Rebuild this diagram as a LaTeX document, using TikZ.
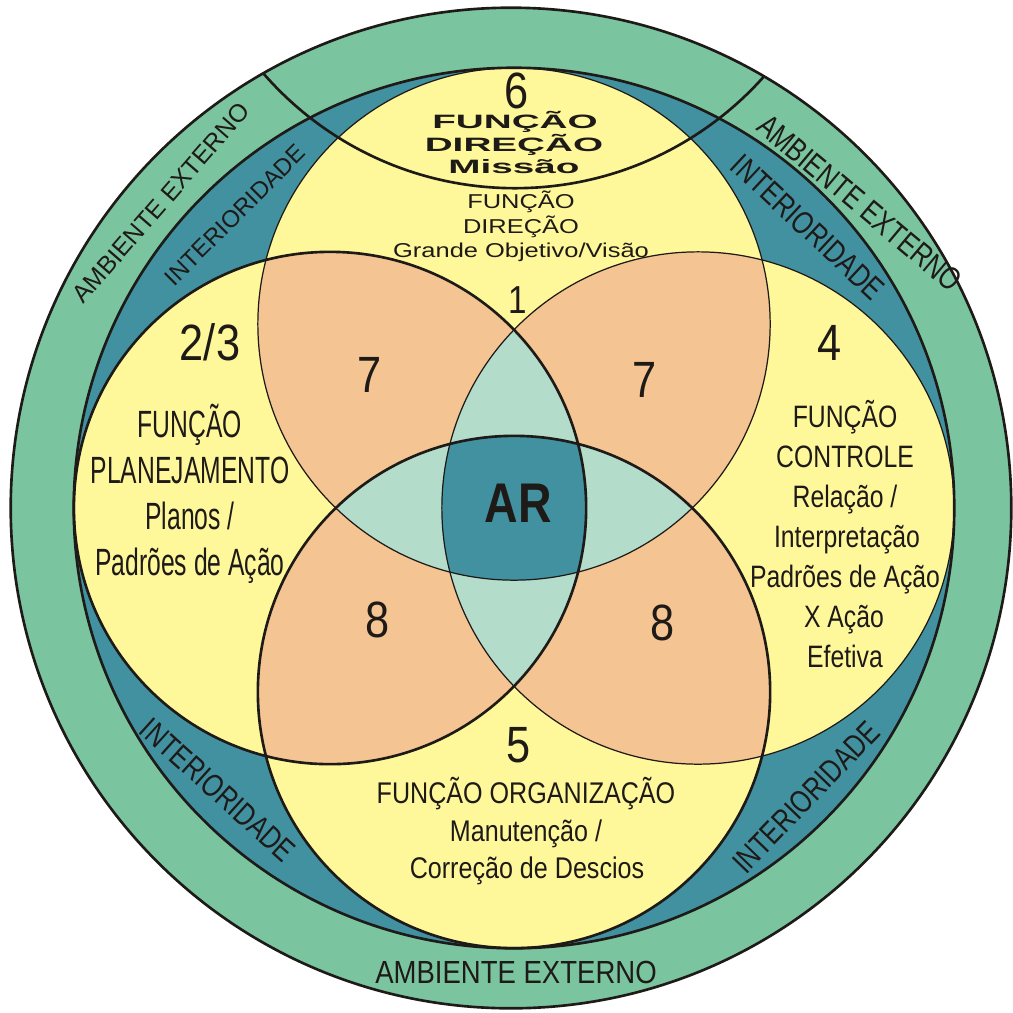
\documentclass[tikz,border=0pt]{standalone}
\usepackage{fontspec}
\setmainfont{Liberation Sans}
\definecolor{ringgreen}{HTML}{7BC4A0}
\definecolor{ringteal}{HTML}{4291A0}
\definecolor{zoneyellow}{HTML}{FFF89B}
\definecolor{zonepeach}{HTML}{F4C492}
\definecolor{zonelight}{HTML}{B4DCCB}
\definecolor{inkcol}{HTML}{1E1A18}
\newcommand\fsz[1]{\fontsize{#1}{#1}\selectfont}
\begin{document}
\begin{tikzpicture}[x=0.01cm,y=-0.01cm,
  txt/.style={inner sep=0pt, outer sep=0pt, text=inkcol, anchor=base},
  ringtxt/.style={inner sep=0pt, outer sep=0pt, text=inkcol, anchor=center},
  digit/.style={txt, font=\fsz{14.5}, xscale=0.85},
  leftblk/.style={txt, font=\fsz{10.8}, xscale=0.65},
  rightblk/.style={txt, font=\fsz{8.8}, xscale=0.8},
  botblk/.style={txt, font=\fsz{8.5}, xscale=0.84},
  topbold/.style={txt, font=\bfseries\fsz{5.5}, xscale=2.0},
  topreg/.style={txt, font=\fsz{5.7}, xscale=1.27},
  thickline/.style={line width=0.75pt, draw=inkcol},
  thinline/.style={line width=0.35pt, draw=inkcol},
]
\useasboundingbox (0,0) rectangle (1013,1012);
\def\cOuter{(511,508) circle (5cm)}
\def\cTeal{(514,508) circle (4.4cm)}
\def\cTop{(514,324) circle (2.56cm)}
\def\cBot{(514,692) circle (2.56cm)}
\def\cLeft{(330,508) circle (2.56cm)}
\def\cRight{(698,508) circle (2.56cm)}
% fills
\fill[ringgreen] \cOuter;
\fill[ringteal] \cTeal;
\fill[zoneyellow] \cTop \cBot \cLeft \cRight;
\begin{scope}\clip \cTop; \fill[zonepeach] \cLeft \cRight; \end{scope}
\begin{scope}\clip \cBot; \fill[zonepeach] \cLeft \cRight; \end{scope}
\begin{scope}\clip \cLeft; \fill[zonelight] \cRight; \end{scope}
\begin{scope}\clip \cTop; \fill[zonelight] \cBot; \end{scope}
\begin{scope}\clip \cLeft; \clip \cRight; \clip \cTop; \fill[ringteal] \cBot; \end{scope}
% outlines
\draw[thinline] \cTop;
\draw[thinline] \cRight;
\draw[thickline] \cLeft;
\draw[thickline] \cBot;
\draw[thickline] \cTeal;
\draw[thickline] \cOuter;
\begin{scope}\clip \cOuter; \draw[thickline] (515,-145) circle (3.33cm); \end{scope}
% region 6
\node[digit] (n6) at (517,108) {6};
\node[topbold] (d6a) at (515,128) {FUNÇÃO};
\node[topbold] (d6b) at (514,151) {DIREÇÃO};
\node[topbold] (d6c) at (514,173) {Missão};
% region 1
\node[topreg] (d1a) at (521,208) {FUNÇÃO};
\node[topreg] (d1b) at (521,233) {DIREÇÃO};
\node[topreg] (d1c) at (521,257) {Grande Objetivo/Visão};
\node[txt, font=\fsz{11.1}, xscale=0.85] (n1) at (518,313) {1};
% overlaps
\node[digit] (n7l) at (370,392) {7};
\node[digit] (n7r) at (645,397) {7};
\node[digit] (n8l) at (378,637) {8};
\node[digit] (n8r) at (663,640) {8};
\node[txt, font=\bfseries\fsz{15.9}, xscale=0.83] (ar) at (518,522) {AR};
% left block
\node[digit] (n23) at (210,360) {2/3};
\node[leftblk] (pl1) at (190,437) {FUNÇÃO};
\node[leftblk] (pl2) at (190,483) {PLANEJAMENTO};
\node[leftblk] (pl3) at (190,529) {Planos /};
\node[leftblk] (pl4) at (190,575) {Padrões de Ação};
% right block
\node[digit] (n4) at (830,360) {4};
\node[rightblk] (co1) at (845,427) {FUNÇÃO};
\node[rightblk] (co2) at (845,467) {CONTROLE};
\node[rightblk] (co3) at (845,507) {Relação /};
\node[rightblk] (co4) at (847,547) {Interpretação};
\node[rightblk] (co5) at (845,587) {Padrões de Ação};
\node[rightblk] (co6) at (844,627) {X Ação};
\node[rightblk] (co7) at (845,667) {Efetiva};
% bottom block
\node[digit] (n5) at (519,762) {5};
\node[botblk] (or1) at (526,803) {FUNÇÃO ORGANIZAÇÃO};
\node[botblk] (or2) at (526,841) {Manutenção /};
\node[botblk] (or3) at (527,878) {Correção de Descios};
% ring labels
\node[ringtxt, font=\fsz{7.1}, rotate=49] (amb1) at (161,203) {AMBIENTE EXTERNO};
\node[ringtxt, font=\fsz{6.8}, rotate=45] (int1) at (235,215) {INTERIORIDADE};
\node[ringtxt, font=\fsz{9.1}, rotate=-40, xscale=0.78] (amb2) at (860,203) {AMBIENTE EXTERNO};
\node[ringtxt, font=\fsz{9.1}, rotate=-43, xscale=0.78] (int2) at (808,227) {INTERIORIDADE};
\node[ringtxt, font=\fsz{9.1}, rotate=-42, xscale=0.78] (int3) at (218,790) {INTERIORIDADE};
\node[ringtxt, font=\fsz{9.1}, rotate=46, xscale=0.78] (int4) at (806,797) {INTERIORIDADE};
\node[txt, font=\fsz{9.1}, xscale=0.86] (amb3) at (516,983) {AMBIENTE EXTERNO};
\end{tikzpicture}
\end{document}
